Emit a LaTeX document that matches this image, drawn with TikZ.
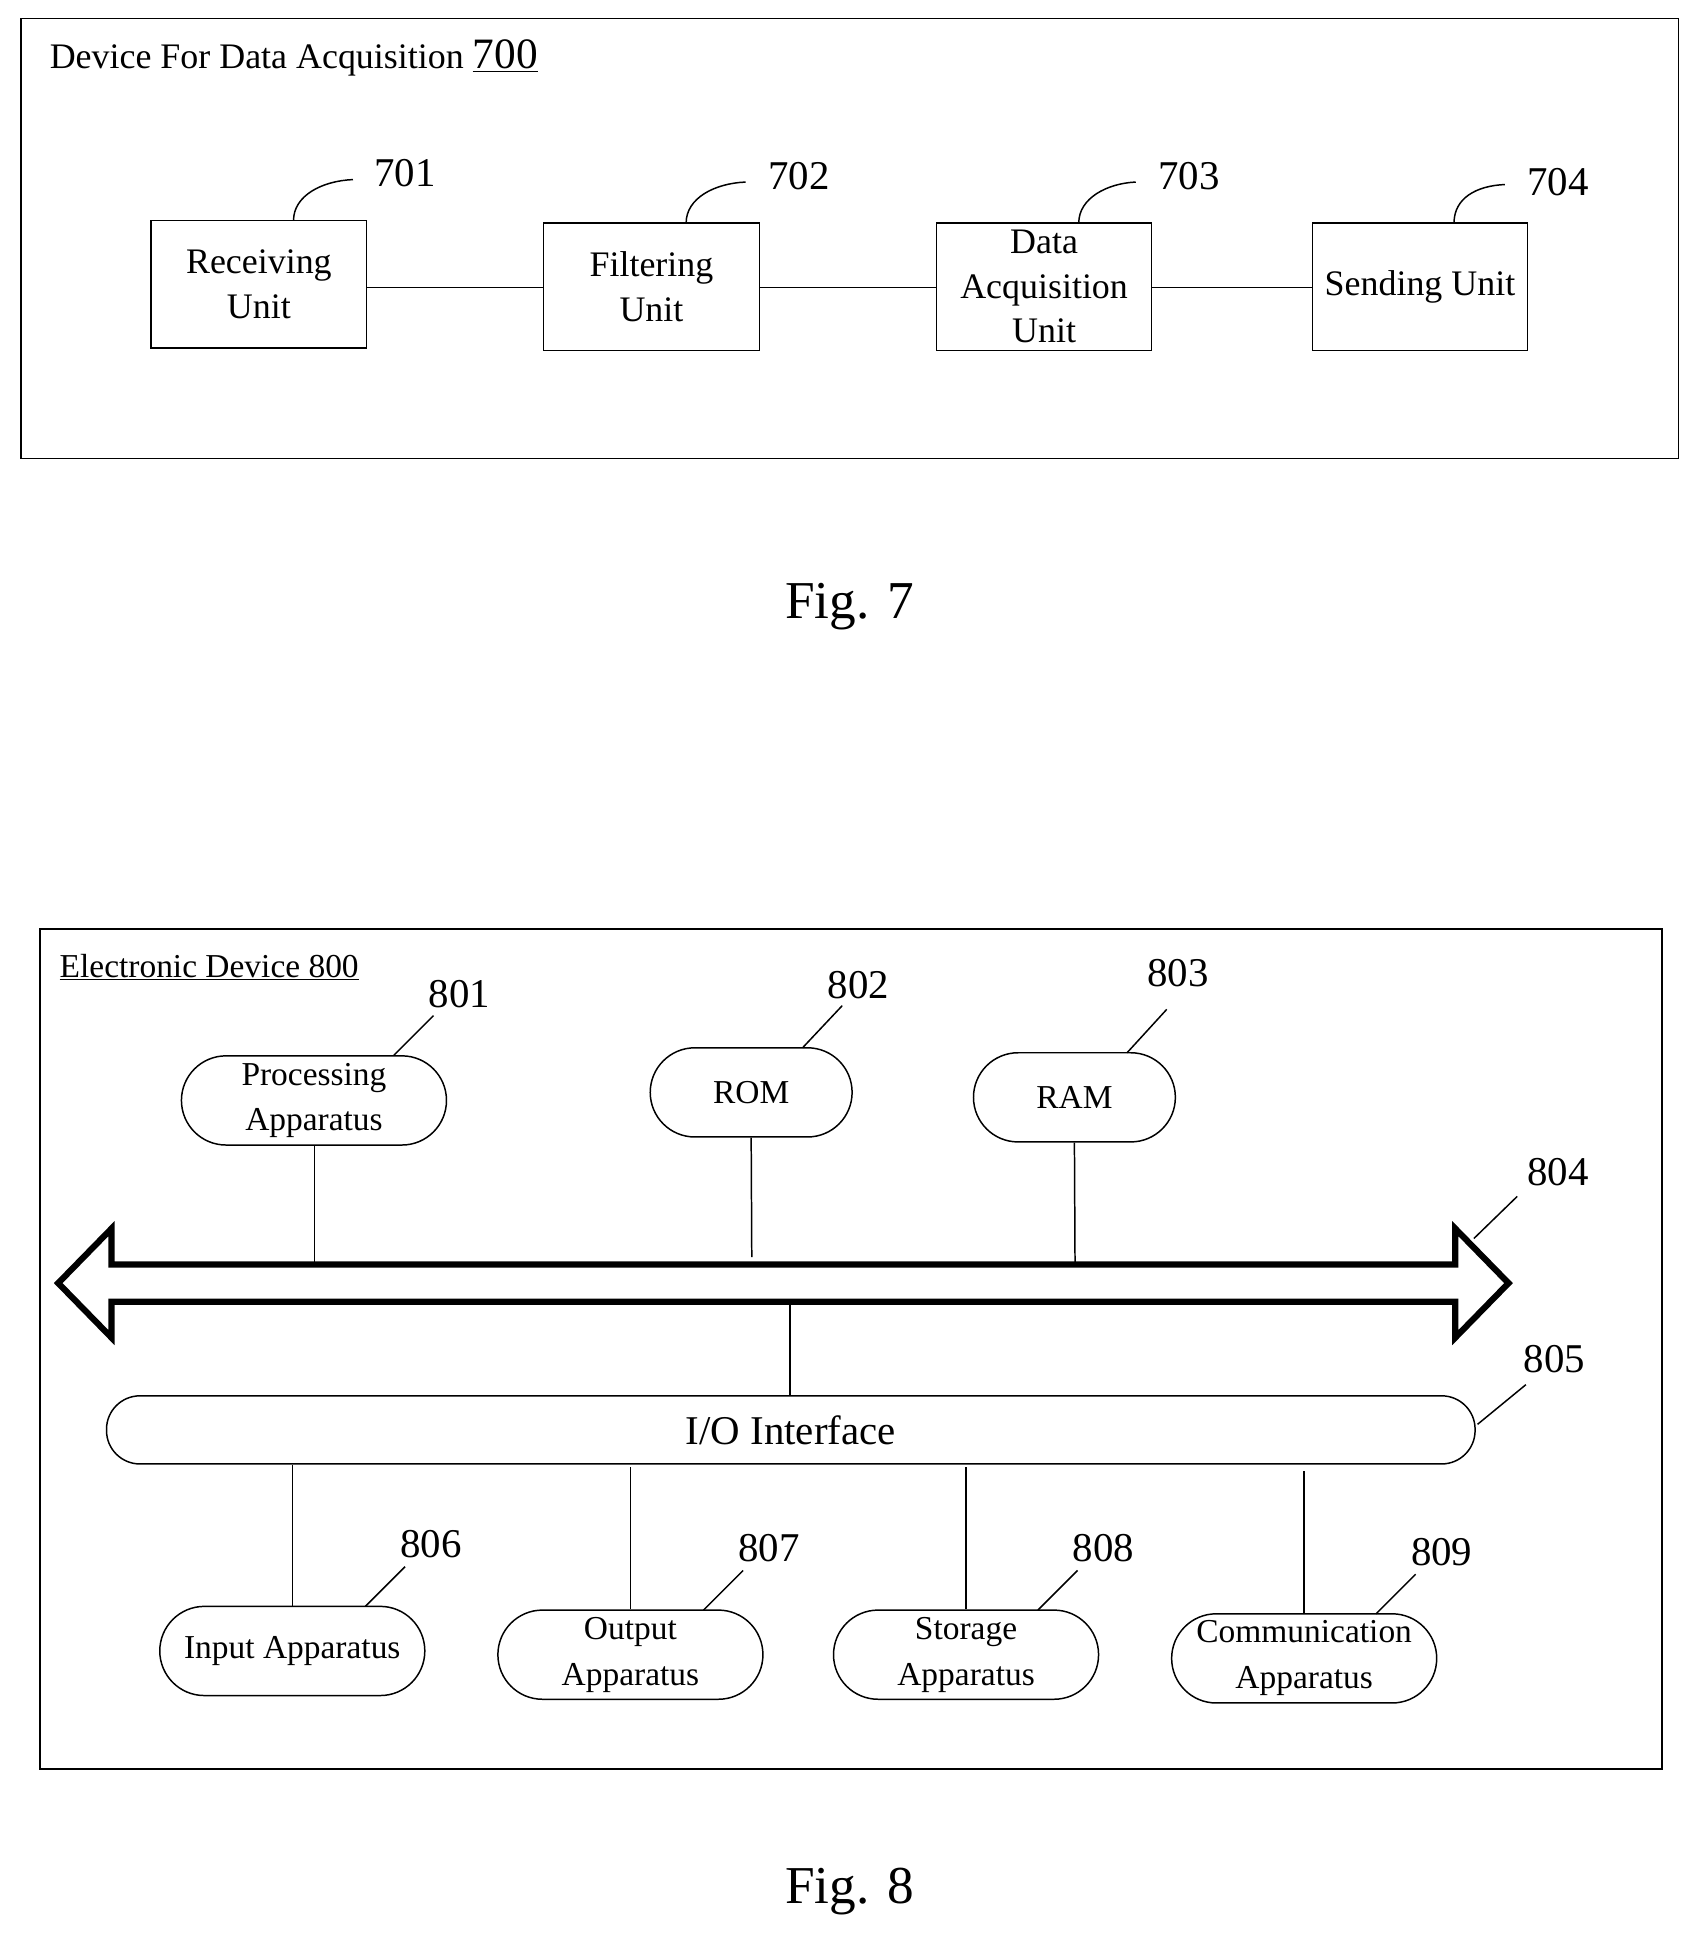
\documentclass[tikz,border=0pt]{standalone}
\usepackage{fontspec}
\setmainfont{Liberation Serif}
\begin{document}
\begin{tikzpicture}[x=1pt,y=-1pt,
  box/.style={draw,line width=1pt,minimum width=174pt,minimum height=103pt,align=center,font=\fontsize{29}{36}\selectfont,inner sep=0pt},
  pill/.style={draw,line width=1.2pt,rounded corners=36pt,minimum width=214pt,minimum height=72pt,align=center,font=\fontsize{27}{37}\selectfont,inner sep=0pt},
  num/.style={font=\fontsize{33}{36}\selectfont,inner sep=0pt},
  ln/.style={line width=1.2pt},
  fig/.style={font=\fontsize{43}{46}\selectfont}]
\useasboundingbox (0,0) rectangle (1372,1568);
% Fig 7
\draw[line width=1pt] (17,15) rectangle (1355,370);
\node[anchor=west,font=\fontsize{29}{32}\selectfont,inner sep=0pt] (t7) at (40,47) {Device For Data Acquisition \underline{\fontsize{35}{36}\selectfont 700}};
\node[box] (u1) at (209,229.5) {Receiving\\Unit};
\node[box] (u2) at (526,231.5) {Filtering\\Unit};
\node[box] (u3) at (843,231.5) {Data\\Acquisition\\Unit};
\node[box] (u4) at (1146.5,231.5) {Sending Unit};
\draw[line width=0.8pt] (u1.east|-0,232) -- (u2.west|-0,232) (u2.east|-0,232) -- (u3.west|-0,232) (u3.east|-0,232) -- (u4.west|-0,232);
\node[num] (n701) at (327,140) {701};
\node[num] (n702) at (645,142) {702};
\node[num] (n703) at (960,142) {703};
\node[num] (n704) at (1258,147) {704};
\draw[ln] (237,178) .. controls (237,158) and (260,146) .. (285,145);
\draw[ln] (554,180) .. controls (554,160) and (577,148) .. (602,147);
\draw[ln] (871,180) .. controls (871,160) and (894,148) .. (917,147);
\draw[ln] (1174,180) .. controls (1174,160) and (1192,150) .. (1215,149);
\node[fig] (f7) at (686,490) {Fig. 7};
% Fig 8
\draw[line width=1.5pt] (32,750) rectangle (1342,1428);
\node[anchor=west,font=\fontsize{27}{30}\selectfont,inner sep=0pt] (t8) at (48,781) {\underline{Electronic Device 800}};
\node[pill] (p1) at (253.5,888.5) {Processing\\Apparatus};
\node[pill,minimum width=163pt] (rom) at (606.5,882) {ROM};
\node[pill,minimum width=163pt] (ram) at (867.5,886) {RAM};
\node[num] (n801) at (371,803) {801};
\node[num] (n802) at (693,795) {802};
\node[num] (n803) at (951,786) {803};
\draw[ln] (318,852) -- (350,820);
\draw[ln] (648,846) -- (680,812);
\draw[ln] (910,850) -- (942,815);
% bus
\draw[line width=5pt,line join=miter] (47,1036) -- (90,992) -- (90,1021) -- (1175,1021) -- (1175,992) -- (1218,1036) -- (1175,1080) -- (1175,1051) -- (90,1051) -- (90,1080) -- cycle;
\coordinate (b1) at (254,1021);
\coordinate (b2) at (607,1015);
\coordinate (b3) at (868,1021);
\coordinate (b4) at (638,1051);
\draw[ln] (p1.south-|b1) -- (b1);
\draw[ln] (rom.south) -- (b2);
\draw[ln] (ram.south) -- (b3);
\node[num] (n804) at (1258,946) {804};
\draw[ln] (1190,1000) -- (1225,966);
\node[pill,minimum width=1105pt,minimum height=55pt,rounded corners=27pt,font=\fontsize{33}{36}\selectfont] (io) at (638.5,1154.5) {I/O Interface};
\draw[ln] (b4) -- (io.north-|b4);
\node[num] (n805) at (1255,1097) {805};
\draw[ln] (1193,1150) -- (1232,1118);
\node[pill] (q1) at (236,1333) {Input Apparatus};
\node[pill] (q2) at (509,1336) {Output\\Apparatus};
\node[pill] (q3) at (780,1336) {Storage\\Apparatus};
\node[pill] (q4) at (1053,1339) {Communication\\Apparatus};
\draw[ln] (q1.north) -- (io.south-|q1.north);
\draw[ln] (q2.north) -- ++(0,-115);
\draw[ln] (q3.north) -- ++(0,-115);
\draw[ln] (q4.north) -- ++(0,-115);
\node[num] (n806) at (348,1247) {806};
\node[num] (n807) at (621,1250) {807};
\node[num] (n808) at (891,1250) {808};
\node[num] (n809) at (1164,1253) {809};
\draw[ln] (295,1297) -- (327,1265);
\draw[ln] (568,1300) -- (600,1268);
\draw[ln] (838,1300) -- (870,1268);
\draw[ln] (1111,1303) -- (1143,1271);
\node[fig] (f8) at (686,1527) {Fig. 8};
\end{tikzpicture}
\end{document}
